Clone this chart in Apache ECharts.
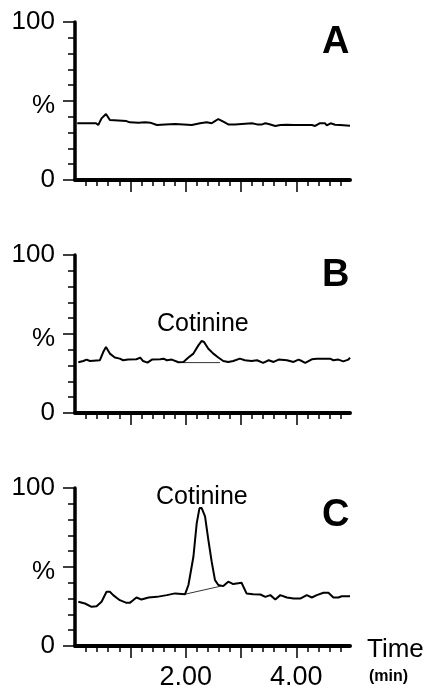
<!DOCTYPE html>
<html>
<head>
<meta charset="utf-8">
<script src="https://cdn.jsdelivr.net/npm/echarts@6/dist/echarts.min.js"></script>
<style>
  html, body { margin: 0; padding: 0; background: #fff; }
  #chart { width: 424px; height: 685px; }
</style>
</head>
<body>
<div id="chart"></div>
<script>
// retention time (min) and relative abundance (%)
var timeA = [0.04,0.38,0.42,0.48,0.56,0.63,0.66,0.93,0.99,1.15,1.18,1.27,1.36,1.48,1.63,1.81,1.84,2.11,2.26,2.38,2.47,2.53,2.59,2.68,2.77,2.89,2.92,3.20,3.29,3.38,3.44,3.50,3.62,3.71,3.83,3.95,4.28,4.34,4.42,4.52,4.55,4.62,4.70,4.79,4.97];
var valA  = [35.9,35.9,34.8,39.0,41.8,38.0,37.3,37.3,36.5,36.3,35.4,36.5,36.3,34.8,35.2,35.4,34.8,34.8,35.9,36.5,35.9,37.3,38.6,36.9,35.2,35.2,35.9,35.9,35.2,35.2,35.9,35.4,34.2,34.8,35.0,34.8,34.8,34.2,35.9,35.9,34.6,35.9,35.0,34.8,34.4];

var timeB = [0.06,0.15,0.21,0.27,0.45,0.51,0.56,0.63,0.72,0.81,0.87,0.96,1.11,1.18,1.23,1.31,1.39,1.54,1.60,1.66,1.75,1.87,1.96,2.05,2.14,2.23,2.29,2.33,2.41,2.50,2.59,2.68,2.77,2.86,2.98,3.07,3.19,3.29,3.40,3.50,3.59,3.68,3.83,3.95,4.04,4.10,4.16,4.28,4.37,4.61,4.67,4.76,4.85,4.94,4.97];
var valB  = [32.1,32.9,33.8,32.9,33.4,38.6,41.8,37.6,35.1,34.4,33.4,33.8,34.0,35.1,32.9,31.9,33.8,34.0,34.4,33.4,33.8,32.1,32.3,35.1,37.6,42.8,45.6,45.0,40.7,37.6,35.1,32.9,32.3,32.9,34.4,33.4,32.9,33.4,31.7,33.4,32.3,33.8,33.4,32.3,33.8,32.9,31.7,34.0,34.4,34.4,33.4,33.8,32.7,33.8,35.1];

var timeC = [0.06,0.18,0.30,0.39,0.48,0.57,0.63,0.69,0.81,0.93,0.99,1.05,1.11,1.20,1.33,1.48,1.66,1.81,1.99,2.05,2.14,2.20,2.25,2.29,2.35,2.41,2.47,2.53,2.59,2.68,2.77,2.86,3.01,3.10,3.22,3.35,3.44,3.53,3.62,3.71,3.83,3.95,4.07,4.19,4.28,4.37,4.49,4.58,4.67,4.76,4.82,4.97];
var valC  = [28.0,26.9,24.8,25.2,28.0,34.3,34.3,32.2,29.0,27.3,27.3,29.0,30.7,29.4,30.7,31.1,32.2,33.3,32.8,38.6,56.5,77.8,87.3,87.3,82.0,67.2,53.4,41.7,38.6,37.9,40.7,39.2,40.0,33.3,32.8,32.6,31.1,32.2,29.5,32.2,30.7,30.0,30.0,32.2,30.7,32.2,33.7,33.7,30.7,30.7,31.5,31.5];

// integration baselines under the cotinine peak
var baseTimeB = [1.95, 2.62];
var baseValB  = [31.9, 31.9];
var baseTimeC = [1.99, 2.65];
var baseValC  = [32.8, 38.0];

var xMajorTicks = [1, 2, 3, 4];
var xTickLabels = [2, 4];
var yLabels = { 0: '0', 50: '{p|%}', 100: '100' };
var panelNames = ['A', 'B', 'C'];

function zip(xs, ys) {
  var out = [];
  for (var i = 0; i < xs.length; i++) out.push([xs[i], ys[i]]);
  return out;
}

var FONT = 'Liberation Sans, Arial, sans-serif';
var tops = [22, 255, 488];

var grids = [], xAxes = [], yAxes = [];
for (var i = 0; i < 3; i++) {
  grids.push({ left: 75, right: 74, top: tops[i], height: 158, containLabel: false, outerBoundsMode: 'none' });
  xAxes.push({
    gridIndex: i, type: 'value', min: 0, max: 4.97, interval: 1,
    axisLine: { lineStyle: { color: '#000', width: 4 } },
    axisTick: { show: true, length: 12, customValues: xMajorTicks, lineStyle: { color: '#000', width: 1.5 } },
    minorTick: { show: true, splitNumber: 5, length: 6, lineStyle: { color: '#000', width: 1.5 } },
    axisLabel: {
      show: i === 2, customValues: xTickLabels, margin: 18,
      color: '#000', fontSize: 27, fontFamily: FONT,
      formatter: function (v) { return v.toFixed(2); }
    },
    splitLine: { show: false }
  });
  yAxes.push({
    gridIndex: i, type: 'value', min: 0, max: 100, interval: 50,
    axisLine: { show: true, lineStyle: { color: '#000', width: 3.5 } },
    axisTick: { show: true, length: 12, lineStyle: { color: '#000', width: 1.5 } },
    minorTick: { show: true, splitNumber: 5, length: 7, lineStyle: { color: '#000', width: 1.5 } },
    axisLabel: {
      margin: 20, color: '#000', fontSize: 26, fontFamily: FONT,
      formatter: function (v) { return yLabels[v] || ''; },
      rich: { p: { fontSize: 26, fontFamily: FONT, color: '#000', padding: [10, 0, 0, 0] } }
    },
    splitLine: { show: false }
  });
}

function trace(idx, xs, ys, w) {
  return {
    type: 'line', xAxisIndex: idx, yAxisIndex: idx,
    data: zip(xs, ys), showSymbol: false, symbol: 'none', silent: true,
    lineStyle: { color: '#000', width: w }
  };
}

var chart = echarts.init(document.getElementById('chart'));
chart.setOption({
  animation: false,
  backgroundColor: '#fff',
  grid: grids,
  xAxis: xAxes,
  yAxis: yAxes,
  series: [
    trace(0, timeA, valA, 2),
    trace(1, timeB, valB, 2),
    trace(1, baseTimeB, baseValB, 0.8),
    trace(2, timeC, valC, 2),
    trace(2, baseTimeC, baseValC, 0.8)
  ],
  graphic: [
    { type: 'text', left: 322, top: 24, style: { text: panelNames[0], font: 'bold 38px ' + FONT, fill: '#000' } },
    { type: 'text', left: 322, top: 257, style: { text: panelNames[1], font: 'bold 38px ' + FONT, fill: '#000' } },
    { type: 'text', left: 322, top: 497, style: { text: panelNames[2], font: 'bold 38px ' + FONT, fill: '#000' } },
    { type: 'text', left: 157, top: 312, style: { text: 'Cotinine', font: '25px ' + FONT, fill: '#000' } },
    { type: 'text', left: 156, top: 485, style: { text: 'Cotinine', font: '25px ' + FONT, fill: '#000' } },
    { type: 'text', left: 367, top: 637, style: { text: 'Time', font: '26px ' + FONT, fill: '#000' } },
    { type: 'text', left: 369, top: 669, style: { text: '(min)', font: 'bold 16px ' + FONT, fill: '#000' } }
  ]
});
</script>
</body>
</html>
